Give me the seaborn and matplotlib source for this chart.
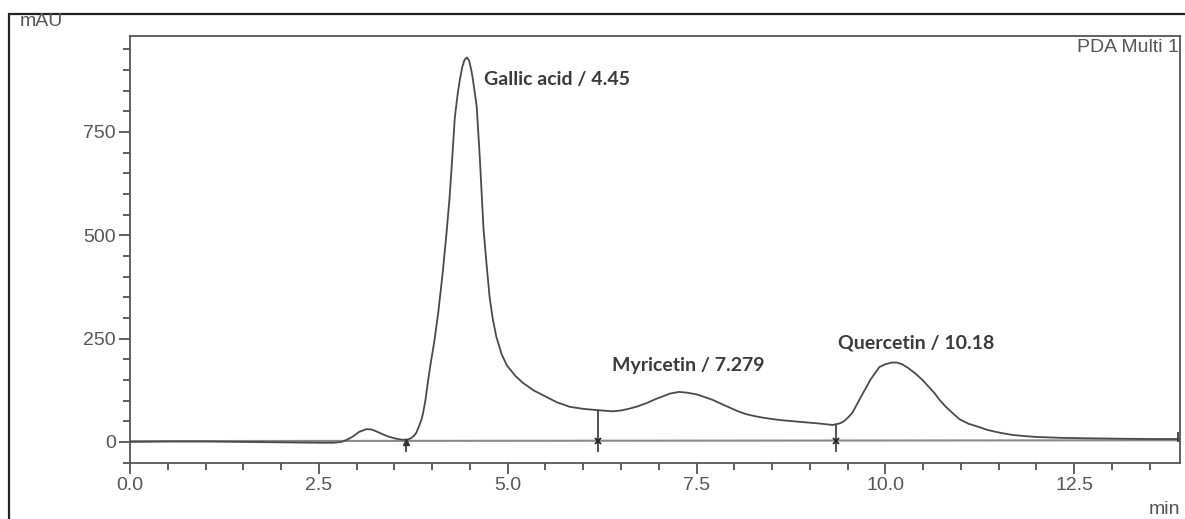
import numpy as np
import pandas as pd
import matplotlib
matplotlib.use("Agg")
import matplotlib.pyplot as plt
from matplotlib.ticker import MultipleLocator
from matplotlib.patches import Rectangle
import seaborn as sns

# chromatogram trace (min, mAU)
time_min = [0.0, 0.5, 1.0, 1.5, 2.0, 2.5, 2.70, 2.80, 2.87, 2.95, 3.03, 3.13,
            3.20, 3.28, 3.35, 3.42, 3.52, 3.61, 3.68, 3.72, 3.76, 3.79, 3.83,
            3.86, 3.88, 3.91, 3.94, 3.97, 4.03, 4.08, 4.14, 4.19, 4.23, 4.26,
            4.30, 4.34, 4.37, 4.40, 4.43, 4.46, 4.49, 4.52, 4.54, 4.59, 4.63,
            4.68, 4.72, 4.76, 4.80, 4.85, 4.92, 4.99, 5.10, 5.20, 5.35, 5.51,
            5.65, 5.82, 6.00, 6.18, 6.39, 6.50, 6.60, 6.72, 6.84, 6.95, 7.05,
            7.15, 7.27, 7.38, 7.50, 7.60, 7.71, 7.83, 7.95, 8.05, 8.16, 8.28,
            8.40, 8.60, 8.90, 9.10, 9.30, 9.40, 9.45, 9.50, 9.56, 9.60, 9.65,
            9.70, 9.75, 9.80, 9.85, 9.92, 10.00, 10.08, 10.15, 10.22, 10.30,
            10.40, 10.49, 10.57, 10.65, 10.72, 10.80, 10.90, 10.98, 11.10,
            11.24, 11.35, 11.47, 11.58, 11.68, 11.85, 12.00, 12.30, 12.60,
            13.00, 13.50, 13.88]
absorbance = [0, 1, 1, 0, -1, -2, -2, 0, 5, 13, 24, 31,
              30, 24, 18, 13, 8, 5, 6, 9, 15, 22, 40,
              55, 70, 100, 140, 178, 245, 312, 410, 505, 590, 670,
              785, 845, 880, 908, 925, 930, 922, 898, 876, 811, 690,
              515, 430, 351, 300, 254, 212, 185, 160, 143, 124, 109,
              96, 85, 80, 77, 74, 76, 80, 86, 94, 103, 110,
              117, 121, 119, 115, 109, 102, 92, 82, 74, 67, 62,
              58, 53, 48, 45, 41, 45, 50, 58, 70, 83, 100,
              117, 133, 150, 163, 181, 188, 192, 192, 188, 179,
              165, 150, 134, 118, 101, 85, 68, 55, 44,
              36, 29, 24, 20, 17, 14, 12, 10, 9,
              8, 7, 7]

baseline_t = [0.0, 13.9]
baseline_v = [2, 4]

# integration marks
mark_t = [3.65, 6.2, 9.35, 13.88]
mark_top = [5, 77, 41, 25]
mark_bottom = [-25, -25, -25, 0]

peak_labels = ["Gallic acid / 4.45", "Myricetin / 7.279", "Quercetin / 10.18"]
label_x = [4.68, 6.38, 9.37]
label_y = [876, 186, 240]

df = pd.DataFrame({"time": time_min, "mAU": absorbance})

sns.set_style("white")
plt.rcParams["font.family"] = ["Liberation Sans", "DejaVu Sans"]

fig = plt.figure(figsize=(11.85, 5.19), dpi=100)
ax = fig.add_axes([130 / 1185, 1 - 463 / 519, 1050 / 1185, 427 / 519])

ax.plot(baseline_t, baseline_v, color="#8a8a8a", lw=1.5, zorder=1)
sns.lineplot(data=df, x="time", y="mAU", ax=ax, color="#4a4a4a", lw=1.3, zorder=3)

ax.vlines(mark_t, mark_bottom, mark_top, color="#333333", lw=1.2, zorder=4)
ax.plot(mark_t[0], 0, marker="^", ms=5, color="#333333", zorder=5)
ax.plot(mark_t[1:3], [3, 3], "x", ms=5, mew=1.3, color="#222222", zorder=5)

for txt, x, y in zip(peak_labels, label_x, label_y):
    ax.text(x, y, txt, fontsize=14, color="#3a3a3a", va="center", ha="left",
            family=["Lato", "DejaVu Sans"], fontweight="bold")

ax.set_xlim(0, 13.9)
ax.set_ylim(-51, 982)
ax.xaxis.set_minor_locator(MultipleLocator(0.5))
ax.yaxis.set_minor_locator(MultipleLocator(50))
ax.set_xticks([0, 2.5, 5, 7.5, 10, 12.5])
ax.set_xticklabels(["0.0", "2.5", "5.0", "7.5", "10.0", "12.5"])
ax.set_yticks([0, 250, 500, 750])
ax.tick_params(which="major", direction="out", length=8, width=1.2,
               color="#444444", labelsize=14, labelcolor="#555555",
               bottom=True, left=True, pad=2)
ax.tick_params(which="minor", direction="out", length=5, width=1.2,
               color="#444444", bottom=True, left=True)
ax.set_xlabel("")
ax.set_ylabel("")
for s in ax.spines.values():
    s.set_color("#555555")
    s.set_linewidth(1.3)

fig.text(20 / 1185, 1 - 22 / 519, "mAU", fontsize=14, color="#555555",
         ha="left", va="center")
fig.text(1179 / 1185, 1 - 48 / 519, "PDA Multi 1", fontsize=14, color="#555555",
         ha="right", va="center")
fig.text(1180 / 1185, 1 - 509 / 519, "min", fontsize=14, color="#555555",
         ha="right", va="center")

# outer frame of the instrument report
fig.add_artist(Rectangle((9 / 1185, -0.05), 1.1, 1 - 14 / 519 + 0.05,
                         transform=fig.transFigure, fill=False,
                         edgecolor="#222222", lw=1.6, clip_on=False))

plt.savefig("out.png", dpi=100)
plt.close()
